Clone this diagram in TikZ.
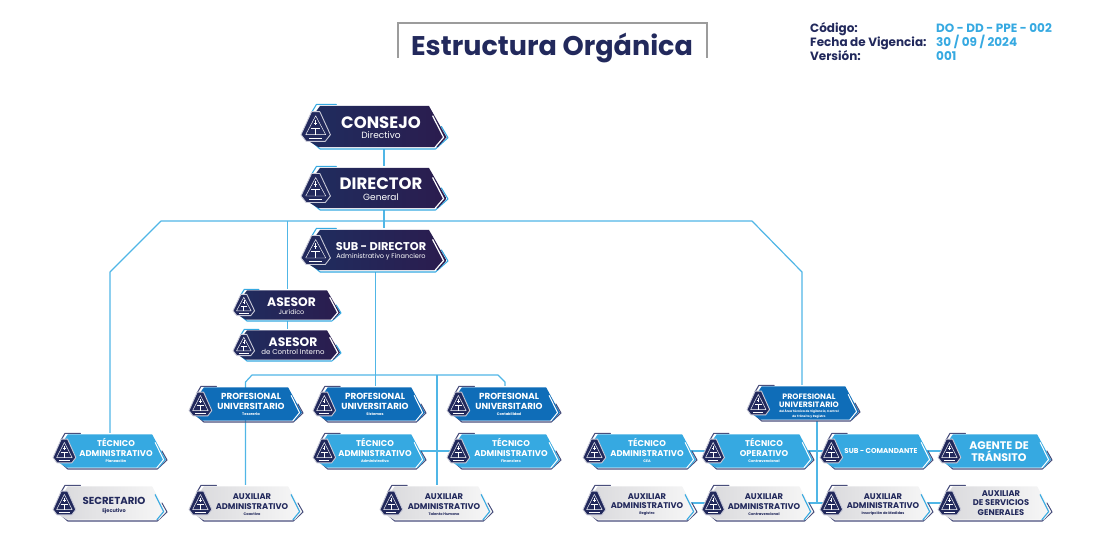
\documentclass[tikz,border=0pt]{standalone}
\usepackage{fontspec}
\setmainfont{Poppins}
\usetikzlibrary{backgrounds,calc}
\definecolor{navyA}{HTML}{1F2D5F}
\definecolor{navyB}{HTML}{2B1C4E}
\definecolor{blueM}{HTML}{0F6DB8}
\definecolor{blueL}{HTML}{36A9E1}
\definecolor{greyA}{HTML}{D9D9DC}
\definecolor{greyB}{HTML}{F7F7F7}
\definecolor{edge}{HTML}{4A4F7C}
\definecolor{linkc}{HTML}{50B6E6}
\definecolor{inkc}{HTML}{22295C}
\definecolor{framec}{HTML}{9C9C9C}
\tikzset{
  x=1pt,y=-1pt,
  link/.style={draw=linkc,line width=1.2pt},
  navy-body/.style={left color=navyA,right color=navyB,draw=none},
  navy-accent/.style={draw=blueL,line width=1.1pt},
  navy-chev/.style={draw=white,line width=1.2pt},
  navy-text/.style={text=white},
  mid-body/.style={fill=blueM,draw=none},
  mid-accent/.style={draw=edge,line width=1.1pt},
  mid-chev/.style={draw=white,line width=1pt},
  mid-text/.style={text=white},
  sky-body/.style={fill=blueL,draw=none},
  sky-accent/.style={draw=edge,line width=1.1pt},
  sky-chev/.style={draw=white,line width=1pt},
  sky-text/.style={text=white},
  pale-body/.style={left color=greyA,right color=greyB,draw=none},
  pale-accent/.style={draw=edge,line width=1.1pt},
  pale-chev/.style={draw=blueL,line width=1.1pt},
  pale-text/.style={text=inkc},
  cardtext/.style={inner sep=0pt,align=center,font=\fontsize{8}{8}\selectfont},
  titleblue/.style={inner sep=0pt,anchor=base west,text=blueL,font=\fontsize{12}{13}\selectfont\bfseries},
  titleink/.style={inner sep=0pt,anchor=base west,text=inkc,font=\fontsize{12}{13}\selectfont\bfseries},
}
\newcommand\bl[2]{{\fontsize{#1}{#1}\bfseries\selectfont #2}}
\newcommand\lt[2]{{\fontsize{#1}{#1}\selectfont #2}}
% name, L, T, R, B, kind, text cx, text cy, text
\newcommand\orgcard[9]{%
  \pgfmathsetmacro\cw{#4-#2}\pgfmathsetmacro\ch{#5-#3}%
  \pgfmathsetmacro\cx{(#2+#4)/2}\pgfmathsetmacro\cy{(#3+#5)/2}%
  \node[inner sep=0pt,minimum width=\cw pt,minimum height=\ch pt] (#1) at (\cx,\cy) {};
  \draw[#6-accent,line cap=round,line join=round] (#2+.07*\cw,#3+.2*\ch) -- (#2+.105*\cw,#3+.01*\ch) -- (#2+.24*\cw,#3+.01*\ch);
  \draw[#6-accent,line join=round,line cap=round] (#2+.08*\cw,#5-.14*\ch) -- (#2+.13*\cw,#5) -- (#4-.085*\cw,#5) -- (#4,#3+.75*\ch) -- (#4-.045*\cw,#3+.5*\ch);
  \path[#6-body] (#2+.13*\cw,#3+.04*\ch) -- (#4-.13*\cw,#3+.04*\ch) -- (#4-.01*\cw,#3+.74*\ch) -- (#4-.07*\cw,#5-.04*\ch)
     -- (#2+.12*\cw,#5-.04*\ch) -- (#2+.04*\cw,#5-.2*\ch) -- (#2+.04*\cw,#3+.45*\ch) -- cycle;
  \draw[#6-chev,line join=miter] (#4-.105*\cw,#3+.26*\ch) -- (#4-.03*\cw,#3+.74*\ch) -- (#4-.09*\cw,#5-.03*\ch);
  \begin{scope}[shift={(#2,\cy)},xscale=.2*\cw/2,yscale=.33*\ch]
    \path[fill=inkc,draw=white!70!edge,line width=.9pt,line join=round]
      (.72,-1) -- (1.28,-1) -- (2,.55) -- (1.65,1) -- (.35,1) -- (0,.55) -- cycle;
    \draw[white,line width=.45pt,line join=round] (1,-.72) -- (1.68,.55) -- (.32,.55) -- cycle;
    \draw[white,line width=.9pt] (.7,.1) -- (1.3,.1) (1,.1) -- (1,.55);
    \draw[white,line width=.5pt] (.9,-.25) -- (1.1,-.25) (1,-.45) -- (1,-.1);
    \draw[white,line width=.9pt] (.55,.78) -- (1.45,.78);
  \end{scope}
  \node[cardtext,#6-text] (#1-txt) at (#7,#8) {#9};
}
\begin{document}
\begin{tikzpicture}
\useasboundingbox (0,0) rectangle (1104,543);
% header
\draw[framec,line width=2pt] (398,58) -- (398,23.5) -- (706.5,23.5) -- (706.5,58);
\node[inner sep=0pt,text=inkc,font=\fontsize{27}{28}\selectfont\bfseries] (maintitle) at (552,48) {Estructura Orgánica};
\node[titleink] (h1) at (810,32.7) {Código:};
\node[titleink] (h2) at (810,46.7) {Fecha de Vigencia:};
\node[titleink] (h3) at (810,60.7) {Versión:};
\node[titleblue] (v1) at (936,32.7) {DO - DD - PPE - 002};
\node[titleblue] (v2) at (936,46.7) {30 / 09 / 2024};
\node[titleblue] (v3) at (936,60.7) {001};
% cards
\orgcard{consejo}{301}{104}{448}{149}{navy}{381}{127.5}{\bl{16.5}{CONSEJO}\\[2.5pt]\lt{9}{Directivo}}
\orgcard{director}{301}{166}{448}{210}{navy}{381}{189}{\bl{16.5}{DIRECTOR}\\[3pt]\lt{9}{General}}
\orgcard{subdir}{301}{228}{448}{272}{navy}{381}{251.5}{\bl{11.3}{SUB - DIRECTOR}\\[-.5pt]\lt{6.6}{Administrativo y Financiero}}
\orgcard{asesorj}{233}{289}{341}{321}{navy}{291.5}{306}{\bl{12.3}{ASESOR}\\[-.5pt]\lt{6.5}{Jurídico}}
\orgcard{asesorc}{233}{329}{341}{361}{navy}{293}{346}{\bl{12.3}{ASESOR}\\[-.5pt]\lt{7}{de Control Interno}}
\orgcard{proft}{189}{386}{303}{422}{mid}{251}{404.5}{\bl{8.8}{PROFESIONAL}\\[2pt]\bl{8.8}{UNIVERSITARIO}\\[-2pt]\bl{3.6}{Tesorería}}
\orgcard{profs}{313}{386}{426}{422}{mid}{375}{404.5}{\bl{8.8}{PROFESIONAL}\\[2pt]\bl{8.8}{UNIVERSITARIO}\\[-2pt]\bl{3.6}{Sistemas}}
\orgcard{profc}{447}{386}{561}{422}{mid}{509}{404.5}{\bl{8.8}{PROFESIONAL}\\[2pt]\bl{8.8}{UNIVERSITARIO}\\[-2pt]\bl{3.6}{Contabilidad}}
\orgcard{profv}{747}{385}{860}{421}{mid}{809}{406.5}{\bl{7.8}{PROFESIONAL}\\[0pt]\bl{7.8}{UNIVERSITARIO}\\[-3pt]\bl{3}{del Área Técnica de Vigilancia, Control}\\[-3pt]\bl{3}{de Tránsito y Registro}}
\orgcard{tecp}{53}{433}{167}{469}{sky}{116}{450.7}{\bl{8.4}{TÉCNICO}\\[2pt]\bl{8.4}{ADMINISTRATIVO}\\[-2pt]\bl{3.6}{Planeación}}
\orgcard{teca}{313}{433}{426}{469}{sky}{375}{450.7}{\bl{8.4}{TÉCNICO}\\[2pt]\bl{8.4}{ADMINISTRATIVO}\\[-2pt]\bl{3.6}{Administrativo}}
\orgcard{tecf}{447}{433}{561}{469}{sky}{511}{450.7}{\bl{8.4}{TÉCNICO}\\[2pt]\bl{8.4}{ADMINISTRATIVO}\\[-2pt]\bl{3.6}{Financiero}}
\orgcard{tecc}{583}{433}{697}{469}{sky}{647}{450.7}{\bl{8.4}{TÉCNICO}\\[2pt]\bl{8.4}{ADMINISTRATIVO}\\[-2pt]\bl{3.6}{CEA}}
\orgcard{teco}{702}{433}{814}{469}{sky}{764}{450.7}{\bl{8.4}{TÉCNICO}\\[2pt]\bl{8.4}{OPERATIVO}\\[-2pt]\bl{3.6}{Contravencional}}
\orgcard{subcom}{820}{433}{933}{469}{sky}{881}{451}{\bl{7.1}{SUB - COMANDANTE}}
\orgcard{agente}{938}{433}{1052}{469}{sky}{999}{451.5}{\bl{11}{AGENTE DE}\\[0pt]\bl{11}{TRÁNSITO}}
\orgcard{secre}{53}{485}{167}{521}{pale}{114}{505.5}{\bl{10.2}{SECRETARIO}\\[.5pt]\bl{5}{Ejecutivo}}
\orgcard{auxc}{189}{485}{303}{521}{pale}{252}{504.5}{\bl{8.3}{AUXILIAR}\\[1.5pt]\bl{8.3}{ADMINISTRATIVO}\\[-2pt]\bl{3.6}{Coactivo}}
\orgcard{auxt}{380}{485}{493}{521}{pale}{444}{504.5}{\bl{8.3}{AUXILIAR}\\[1.5pt]\bl{8.3}{ADMINISTRATIVO}\\[-2pt]\bl{3.6}{Talento Humano}}
\orgcard{auxr}{583}{485}{697}{521}{pale}{647}{504.5}{\bl{8.3}{AUXILIAR}\\[1.5pt]\bl{8.3}{ADMINISTRATIVO}\\[-2pt]\bl{3.6}{Registro}}
\orgcard{auxo}{702}{485}{814}{521}{pale}{764}{504.5}{\bl{8.3}{AUXILIAR}\\[1.5pt]\bl{8.3}{ADMINISTRATIVO}\\[-2pt]\bl{3.6}{Contravencional}}
\orgcard{auxi}{820}{485}{933}{521}{pale}{883}{504.5}{\bl{8.3}{AUXILIAR}\\[1.5pt]\bl{8.3}{ADMINISTRATIVO}\\[-2pt]\bl{3.6}{Inscripción de Medidas}}
\orgcard{auxs}{938}{485}{1052}{521}{pale}{1001}{503}{\bl{8.3}{AUXILIAR}\\[1.5pt]\bl{8.3}{DE SERVICIOS}\\[1.5pt]\bl{8.3}{GENERALES}}
% connectors
\begin{scope}[on background layer]
\draw[link] (384,0 |- consejo.south) -- (384,0 |- director.north);
\draw[link] (384,0 |- director.south) -- (384,0 |- subdir.north);
\coordinate (busL) at (161,221);
\coordinate (busR) at (752,221);
\draw[link,line join=round] (110,0 |- tecp.north) -- (110,272) -- (busL) -- (busR) -- (802,272) -- (802,0 |- profv.north);
\draw[link] (287.5,221) -- (287.5,0 |- asesorj.north);
\draw[link] (287.5,0 |- asesorj.south) -- (287.5,0 |- asesorc.north);
\draw[link] (375.5,0 |- subdir.south) -- (375.5,0 |- profs.north);
\coordinate (busA) at (252,375);
\coordinate (busB) at (498,375);
\draw[link,line join=round] (245.5,0 |- auxc.north) -- (245.5,382) -- (busA) -- (busB) -- (505,382) -- (505,0 |- profc.north);
\draw[link] (437,375) -- (437,0 |- auxt.north);
\draw[link] (teca.center) -- (tecf.center);
\draw[link] (817,0 |- profv.south) -- (817,503) -- (auxi.center);
\draw[link] (tecc.center) -- (teco.center);
\draw[link] (teco.center) -- (subcom.center);
\draw[link] (subcom.center) -- (agente.center);
\draw[link] (auxr.center) -- (auxo.center);
\draw[link] (auxo.center) -- (auxi.center);
\draw[link] (auxi.center) -- (auxs.center);
\end{scope}
\end{tikzpicture}
\end{document}
